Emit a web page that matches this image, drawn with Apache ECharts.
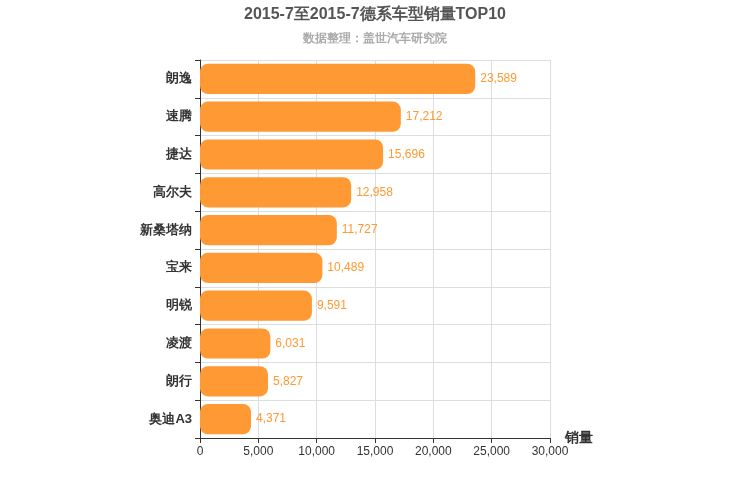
<!DOCTYPE html>
<html><head><meta charset="utf-8">
<script src="https://cdn.jsdelivr.net/npm/echarts@6/dist/echarts.min.js"></script>
<style>body{margin:0}#c{width:750px;height:500px}</style></head>
<body><div id="c"></div>
<script>
const categories = ['朗逸','速腾','捷达','高尔夫','新桑塔纳','宝来','明锐','凌渡','朗行','奥迪A3'];
const sales = [23589,17212,15696,12958,11727,10489,9591,6031,5827,4371];
const chart = echarts.init(document.getElementById('c'));
chart.setOption({
  title:{text:'2015-7至2015-7德系车型销量TOP10',subtext:'数据整理：盖世汽车研究院',left:'center',top:2,
    textStyle:{fontSize:16,fontWeight:'bold',color:'#555'},subtextStyle:{fontSize:12,color:'#aaa',fontWeight:'bold'},itemGap:10},
  grid:{left:200,right:200,top:60,bottom:62},
  xAxis:{type:'value',min:0,max:30000,interval:5000,name:'销量',nameLocation:'end',nameGap:15,
    nameTextStyle:{fontSize:14,fontWeight:'bold',color:'#333',padding:[0,0,0,0],verticalAlign:'middle'},
    axisLine:{show:true,lineStyle:{color:'#333'}},axisTick:{show:true},
    axisLabel:{color:'#333',fontSize:12,formatter:v=>v.toLocaleString('en-US')},
    splitLine:{lineStyle:{color:'#ddd'}}},
  yAxis:{type:'category',data:categories,inverse:true,
    axisLine:{lineStyle:{color:'#333'}},axisTick:{show:true},
    axisLabel:{color:'#333',fontSize:13,fontWeight:'bold'},
    splitLine:{show:true,lineStyle:{color:'#ddd'}}},
  series:[{type:'bar',data:sales,barWidth:'80%',
    itemStyle:{color:'#FF9933',borderRadius:8},
    label:{show:true,position:'right',color:'#FF9933',fontSize:12,formatter:p=>p.value.toLocaleString('en-US')}}]
});
</script></body></html>
